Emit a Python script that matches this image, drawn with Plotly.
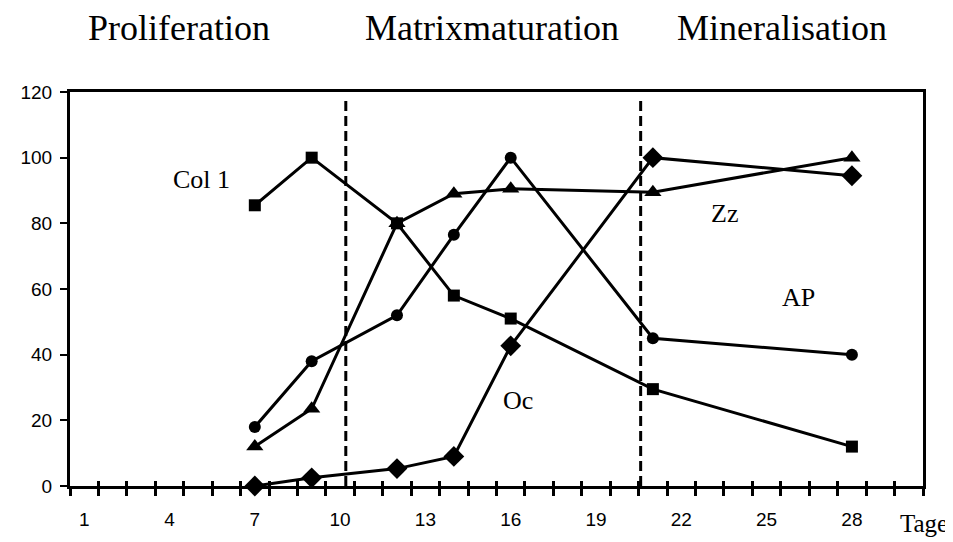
import plotly.graph_objects as go

# ---- data ----
days = [7, 9, 12, 14, 16, 21, 28]
col1 = [85.5, 100, 80, 58, 51, 29.5, 12]      # squares
ap = [18, 38, 52, 76.5, 100, 45, 40]          # circles
zz = [12, 23.5, 80, 89, 90.5, 89.5, 100]      # triangles
oc = [0, 2.5, 5.3, 9, 42.7, 100, 94.5]        # diamonds

tick_vals = [1, 4, 7, 10, 13, 16, 19, 22, 25, 28]
tick_text = [str(v) for v in tick_vals]
y_ticks = [0, 20, 40, 60, 80, 100, 120]
phase_bounds = [10.2, 20.57]
phase_names = ["Proliferation", "Matrixmaturation", "Mineralisation"]
phase_label_x = [0.1275, 0.495, 0.8346]
minor_ticks = [i + 0.5 for i in range(0, 31)]

serif = "Times New Roman, Liberation Serif, serif"
sans = "Arial, Liberation Sans, sans-serif"

fig = go.Figure()

def add(y, symbol, size):
    fig.add_trace(go.Scatter(
        x=days, y=y, mode="lines+markers",
        line=dict(color="black", width=3),
        marker=dict(symbol=symbol, size=size, color="black"),
        cliponaxis=False, showlegend=False, hoverinfo="skip"))

add(col1, "square", 12)
add(ap, "circle", 12)
add(zz, "triangle-up", 15)
add(oc, "diamond", 16)

for xb in phase_bounds:
    fig.add_shape(type="line", xref="x", yref="y", x0=xb, x1=xb, y0=0, y1=117.5,
                  line=dict(color="black", width=3, dash="10px,5px"))

for name, px in zip(phase_names, phase_label_x):
    fig.add_annotation(text=name, xref="paper", yref="paper", x=px, y=1.163,
                       showarrow=False, font=dict(family=serif, size=36, color="black"),
                       xanchor="center", yanchor="middle")

labels = [("Col 1", 5.12, 93.5), ("Zz", 23.52, 83), ("AP", 26.13, 57.5), ("Oc", 16.25, 26)]
for t, lx, ly in labels:
    fig.add_annotation(text=t, x=lx, y=ly, xref="x", yref="y", showarrow=False,
                       font=dict(family=serif, size=26, color="black"),
                       xanchor="center", yanchor="middle")

fig.add_annotation(text="Tage", xref="paper", yref="paper", x=1.0016, y=-0.095,
                   showarrow=False, font=dict(family=serif, size=25, color="black"),
                   xanchor="center", yanchor="middle")

# page body has an 8px margin: figure is sized/offset so the plot lands at the
# reference pixel positions in the 953x542 window
fig.update_layout(
    width=945, height=534,
    margin=dict(l=52, r=30, t=84, b=50),
    paper_bgcolor="white", plot_bgcolor="white",
    xaxis=dict(range=[0.5, 30.5], tickvals=tick_vals, ticktext=tick_text,
               ticks="", ticklabelstandoff=14,
               tickfont=dict(family=sans, size=19, color="black"),
               showgrid=False, zeroline=False, showline=True, linewidth=3,
               linecolor="black", mirror=True,
               minor=dict(tickvals=minor_ticks, ticks="outside", ticklen=7,
                          tickwidth=3, tickcolor="black", showgrid=False)),
    xaxis2=dict(range=[0.5, 30.5], overlaying="x", matches="x", side="bottom",
                tickvals=minor_ticks, ticks="inside", ticklen=5, tickwidth=3,
                tickcolor="black", showticklabels=False, showgrid=False,
                zeroline=False, showline=False),
    yaxis=dict(range=[0, 120], tickvals=y_ticks, ticks="outside", ticklen=7,
               tickwidth=2, tickcolor="black", ticklabelstandoff=4,
               tickfont=dict(family=sans, size=19, color="black"),
               showgrid=False, zeroline=False, showline=True, linewidth=3,
               linecolor="black", mirror=True),
)

fig.add_trace(go.Scatter(x=[None], y=[None], xaxis="x2", showlegend=False, hoverinfo="skip"))

fig.write_html("out.html")
